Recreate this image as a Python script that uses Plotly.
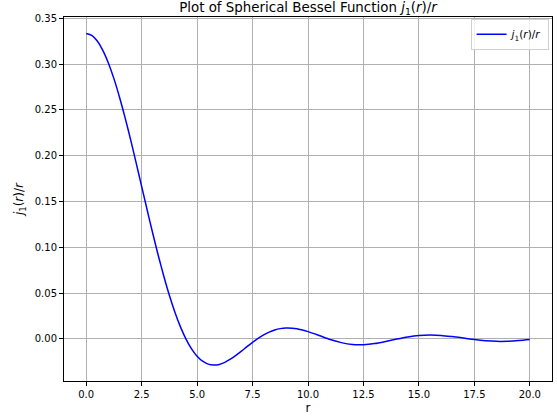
import plotly.graph_objects as go

r_vals = [0.0, 0.25, 0.5, 0.75, 1.0, 1.25, 1.5, 1.75, 2.0, 2.25, 2.5, 2.75, 3.0, 3.25, 3.5, 3.75,
          4.0, 4.25, 4.5, 4.75, 5.0, 5.25, 5.5, 5.75, 6.0, 6.25, 6.5, 6.75, 7.0, 7.25, 7.5, 7.75,
          8.0, 8.25, 8.5, 8.75, 9.0, 9.5, 10.0, 10.5, 11.0, 11.5, 12.0, 12.5, 13.0, 13.5, 14.0, 14.5,
          15.0, 15.5, 16.0, 16.5, 17.0, 17.5, 18.0, 18.5, 19.0, 19.5, 20.0]
f_vals = [0.3333, 0.3313, 0.3251, 0.3150, 0.3012, 0.2841, 0.2641, 0.2418, 0.2177, 0.1924,
          0.1665, 0.1406, 0.1152, 0.0910, 0.0683, 0.0475, 0.0290, 0.0130, -0.0003, -0.0110,
          -0.0190, -0.0245, -0.0277, -0.0287, -0.0280, -0.0257, -0.0223, -0.0181, -0.0135, -0.0086,
          -0.0039, 0.0004, 0.0042, 0.0073, 0.0096, 0.0111, 0.0118, 0.0110,
          0.0078, 0.0036, -0.0008, -0.0042, -0.0062, -0.0064, -0.0052, -0.0029, -0.0003, 0.0020,
          0.0036, 0.0041, 0.0037, 0.0024, 0.0008, -0.0009, -0.0022, -0.0028, -0.0027, -0.0020,
          -0.0009]

x_ticks = [0.0, 2.5, 5.0, 7.5, 10.0, 12.5, 15.0, 17.5, 20.0]
y_ticks = [0.00, 0.05, 0.10, 0.15, 0.20, 0.25, 0.30, 0.35]

label = "<i>j</i><sub>1</sub>(<i>r</i>)/<i>r</i>"

fig = go.Figure()
fig.add_trace(go.Scatter(x=r_vals, y=f_vals, mode="lines",
                         line=dict(color="blue", width=1.5, shape="spline", smoothing=0.8),
                         name=label))

axis_common = dict(showline=True, linecolor="black", linewidth=1, mirror=True,
                   ticks="outside", ticklen=4, tickcolor="black", showgrid=True,
                   gridcolor="#b0b0b0", gridwidth=0.8, zeroline=False, automargin=False,
                   tickfont=dict(family="DejaVu Sans", size=10, color="black"))

fig.update_layout(
    width=557, height=419,
    margin=dict(l=64, r=5, t=17, b=38),
    paper_bgcolor="white", plot_bgcolor="white",
    font=dict(family="DejaVu Sans", size=10, color="black"),
    title=dict(text="Plot of Spherical Bessel Function " + label, x=0.553, xanchor="center",
               y=0.983, yanchor="middle", font=dict(size=13.4)),
    xaxis=dict(range=[-1, 21], tickvals=x_ticks, ticktext=[f"{v:.1f}" for v in x_ticks],
               title=dict(text="r", standoff=4), **axis_common),
    yaxis=dict(range=[-0.0461, 0.3514], tickvals=y_ticks, ticktext=[f"{v:.2f}" for v in y_ticks],
               title=dict(text=label, standoff=8), **axis_common),
    legend=dict(x=0.993, y=0.995, xanchor="right", yanchor="top", bgcolor="rgba(255,255,255,0.8)",
                bordercolor="#d0d0d0", borderwidth=1, font=dict(size=10.5), itemwidth=30),
    showlegend=True,
)

fig.write_html("out.html", config={"displayModeBar": False},
               post_script="document.body.style.margin='0';")
